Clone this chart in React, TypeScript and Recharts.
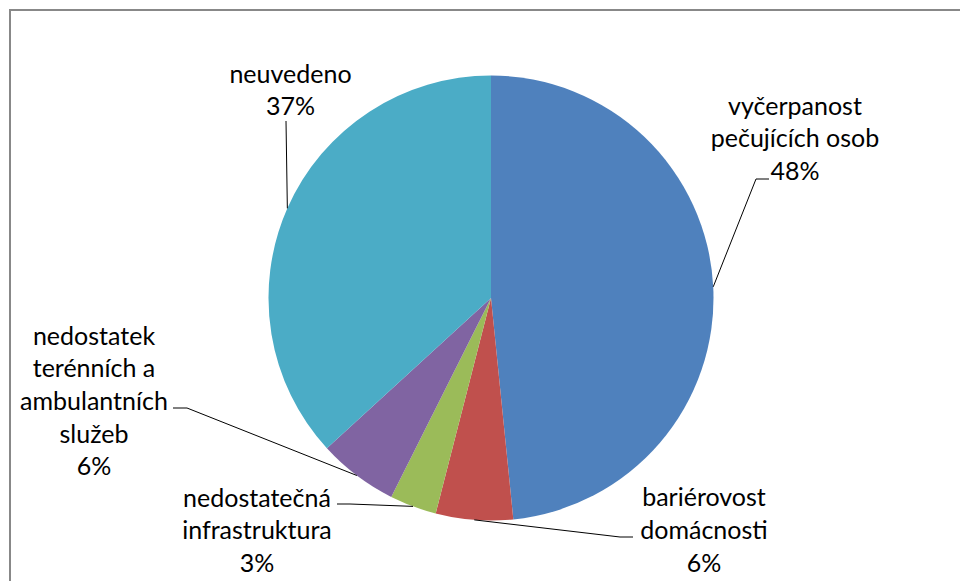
import React from "react";
import { PieChart, Pie, Cell } from "recharts";

const categories = [
  "vyčerpanost pečujících osob",
  "bariérovost domácnosti",
  "nedostatečná infrastruktura",
  "nedostatek terénních a ambulantních služeb",
  "neuvedeno",
];
const values = [48.4, 5.6, 3.4, 5.8, 36.8];
const categoryLines = [
  ["vyčerpanost", "pečujících osob"],
  ["bariérovost", "domácnosti"],
  ["nedostatečná", "infrastruktura"],
  ["nedostatek", "terénních a", "ambulantních", "služeb"],
  ["neuvedeno"],
];
const colors = ["#4F81BD", "#C0504D", "#9BBB59", "#8064A2", "#4BACC6"];

// label layout (text centre x, line baselines, leader bend and end points)
const labelLayout = [
  { x: 795, y: [115, 147, 180], bend: [756, 179], end: [769, 179] },
  { x: 704, y: [506, 539, 572], bend: [620, 537], end: [633, 537] },
  { x: 257, y: [507, 539, 572], bend: [350, 504], end: [337, 504] },
  { x: 94, y: [345, 377, 410, 443, 475], bend: [187, 408], end: [173, 408] },
  { x: 290.5, y: [83, 115], bend: [286, 121], end: [286, 121] },
];

const data = categories.map((name, i) => ({ name, value: values[i] }));

const RAD = Math.PI / 180;
const FONT = "Lato, 'Liberation Sans', sans-serif";

const renderLabel = (props: any) => {
  const { cx, cy, midAngle, outerRadius, percent, index } = props;
  const lay = labelLayout[index];
  const ex = cx + outerRadius * Math.cos(-midAngle * RAD);
  const ey = cy + outerRadius * Math.sin(-midAngle * RAD);
  const lines = [...categoryLines[index], `${Math.round(percent * 100)}%`];
  return (
    <g key={`lbl-${index}`}>
      <polyline
        points={`${ex},${ey} ${lay.bend[0]},${lay.bend[1]} ${lay.end[0]},${lay.end[1]}`}
        fill="none"
        stroke="#000"
        strokeWidth={1}
      />
      <text
        textAnchor="middle"
        fontFamily={FONT}
        fontSize={25}
        fill="#000"
      >
        {lines.map((l, i) => (
          <tspan key={i} x={lay.x} y={lay.y[i]}>
            {l}
          </tspan>
        ))}
      </text>
    </g>
  );
};

export default function App() {
  return (
    <div
      style={{
        position: "absolute",
        left: 0,
        top: 0,
        width: 960,
        height: 581,
        background: "#fff",
        overflow: "hidden",
      }}
    >
      <div
        style={{
          position: "absolute",
          left: 9,
          top: 9,
          width: 1000,
          height: 1000,
          borderTop: "2px solid #888888",
          borderLeft: "2px solid #888888",
        }}
      />
      <div style={{ position: "absolute", left: 0, top: 0 }}>
        <PieChart width={960} height={581} margin={{ top: 0, right: 0, bottom: 0, left: 0 }}>
          <Pie
            data={data}
            dataKey="value"
            nameKey="name"
            cx={491}
            cy={298}
            outerRadius={222.5}
            startAngle={90}
            endAngle={-270}
            stroke="none"
            label={renderLabel}
            labelLine={false}
            isAnimationActive={false}
          >
            {data.map((d, i) => (
              <Cell key={d.name} fill={colors[i]} />
            ))}
          </Pie>
        </PieChart>
      </div>
    </div>
  );
}
